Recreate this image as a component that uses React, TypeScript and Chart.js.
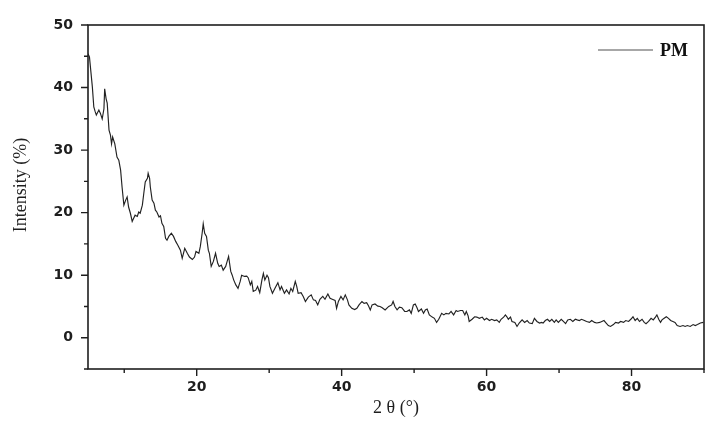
import React, { useEffect, useRef } from "react";
import { Chart, registerables } from "chart.js";

Chart.register(...registerables);

const SERIES_LABEL = "PM";
const X_TITLE = "2 θ (°)";
const Y_TITLE = "Intensity (%)";

const angles: number[] = [
  5.0, 5.2, 5.6, 5.8, 6.0, 6.15, 6.5, 6.7, 6.96, 7.2, 7.3, 7.5, 7.65, 7.9, 8.1, 8.25, 8.4, 8.7, 9.0, 9.25,
  9.5, 9.7, 9.95, 10.2, 10.4, 10.6, 10.85, 11.1, 11.3, 11.5, 11.8, 12.0, 12.2, 12.5, 12.7, 12.9, 13.2, 13.3, 13.5, 13.6,
  13.85, 14.1, 14.3, 14.5, 14.8, 15.0, 15.2, 15.45, 15.7, 15.9, 16.15, 16.5, 16.8, 17.1, 17.4, 17.75, 18.0, 18.35, 18.7, 19.0,
  19.4, 19.7, 19.9, 20.3, 20.5, 20.75, 20.9, 21.1, 21.35, 21.6, 21.75, 22.0, 22.3, 22.6, 22.9, 23.1, 23.4, 23.65, 24.0, 24.2,
  24.4, 24.7, 24.9, 25.1, 25.4, 25.7, 26.0, 26.2, 26.6, 26.9, 27.1, 27.4, 27.6, 27.8, 28.15, 28.4, 28.7, 29.0, 29.2, 29.4,
  29.7, 29.9, 30.1, 30.45, 30.8, 31.2, 31.5, 31.7, 32.1, 32.4, 32.75, 33.0, 33.25, 33.6, 33.8, 34.0, 34.4, 34.7, 35.0, 35.4,
  35.8, 36.1, 36.4, 36.7, 37.0, 37.4, 37.7, 38.1, 38.4, 38.7, 39.1, 39.3, 39.55, 39.9, 40.2, 40.5, 40.8, 41.0, 41.4, 41.8,
  42.1, 42.4, 42.8, 43.1, 43.45, 43.7, 43.95, 44.2, 44.6, 45.0, 45.3, 45.6, 46.0, 46.5, 46.9, 47.1, 47.35, 47.65, 47.97, 48.3,
  48.7, 49.0, 49.35, 49.6, 49.9, 50.15, 50.4, 50.6, 51.0, 51.3, 51.55, 51.8, 52.1, 52.5, 52.8, 53.1, 53.4, 53.8, 54.1, 54.4,
  54.8, 55.1, 55.45, 55.8, 56.0, 56.4, 56.7, 57.0, 57.2, 57.45, 57.6, 58.0, 58.35, 58.65, 59.0, 59.4, 59.7, 60.0, 60.4, 60.7,
  61.1, 61.4, 61.75, 62.0, 62.35, 62.6, 62.8, 63.0, 63.3, 63.5, 63.9, 64.2, 64.5, 64.9, 65.25, 65.6, 65.9, 66.3, 66.6, 66.95,
  67.3, 67.6, 67.8, 68.1, 68.4, 68.7, 69.0, 69.35, 69.6, 69.9, 70.3, 70.6, 70.9, 71.2, 71.55, 71.9, 72.25, 72.5, 72.8, 73.1,
  73.5, 73.8, 74.2, 74.5, 74.9, 75.2, 75.6, 75.9, 76.2, 76.5, 76.8, 77.1, 77.5, 77.8, 78.2, 78.5, 78.9, 79.2, 79.6, 79.9,
  80.2, 80.5, 80.8, 81.1, 81.45, 81.75, 82.0, 82.35, 82.7, 83.0, 83.3, 83.5, 83.75, 84.0, 84.2, 84.5, 84.8, 85.1, 85.4, 85.7,
  86.0, 86.3, 86.7, 87.1, 87.4, 87.7, 88.1, 88.5, 88.8, 89.1, 89.5, 89.9,
];

const intensities: number[] = [
  45.4, 44.9, 40.1, 36.9, 36.1, 35.6, 36.4, 35.9, 35.0, 36.6, 39.8, 38.2, 37.5, 33.2, 32.4, 31.0, 32.1, 31.0, 28.9, 28.4,
  26.8, 24.1, 21.2, 22.0, 22.5, 20.9, 19.9, 18.6, 19.1, 19.6, 19.4, 20.1, 19.9, 21.2, 23.1, 24.9, 25.5, 26.3, 25.5, 24.1,
  22.0, 21.5, 20.4, 20.1, 19.3, 19.5, 18.3, 17.8, 15.9, 15.6, 16.2, 16.7, 16.2, 15.4, 14.8, 14.0, 12.7, 14.3, 13.5, 12.9,
  12.5, 12.9, 13.8, 13.5, 14.6, 16.7, 18.2, 16.7, 16.2, 14.0, 13.5, 11.4, 12.2, 13.5, 11.9, 11.4, 11.6, 10.8, 11.4, 12.2,
  13.0, 10.6, 10.0, 9.25, 8.45, 7.9, 9.0, 10.0, 9.8, 9.85, 9.6, 8.45, 9.0, 7.4, 7.6, 8.2, 7.2, 9.25, 10.3, 9.25,
  10.0, 9.6, 8.2, 7.1, 7.9, 8.8, 7.65, 8.2, 7.1, 7.65, 7.0, 7.9, 7.4, 9.0, 8.2, 7.1, 7.2, 6.6, 5.8, 6.5,
  6.85, 6.05, 5.95, 5.25, 6.15, 6.6, 6.15, 7.0, 6.3, 6.15, 5.95, 4.7, 5.8, 6.6, 6.05, 6.85, 6.05, 5.25, 4.7, 4.5,
  4.7, 5.25, 5.8, 5.5, 5.6, 5.1, 4.45, 5.25, 5.4, 5.05, 5.0, 4.8, 4.45, 5.0, 5.25, 5.8, 5.0, 4.45, 4.9, 4.8,
  4.2, 4.2, 4.45, 3.9, 5.25, 5.4, 4.8, 4.2, 4.6, 3.9, 4.45, 4.6, 3.65, 3.3, 3.1, 2.45, 2.95, 3.9, 3.65, 3.9,
  3.8, 4.2, 3.65, 4.35, 4.2, 4.35, 4.35, 3.65, 4.2, 3.5, 2.6, 2.95, 3.35, 3.3, 3.1, 3.3, 2.85, 3.1, 2.75, 2.95,
  2.75, 2.85, 2.45, 2.95, 3.3, 3.65, 3.35, 2.95, 3.3, 2.6, 2.45, 1.8, 2.35, 2.85, 2.45, 2.75, 2.35, 2.25, 3.1, 2.6,
  2.35, 2.45, 2.35, 2.75, 2.95, 2.6, 2.95, 2.45, 2.85, 2.45, 2.95, 2.6, 2.25, 2.85, 2.95, 2.6, 2.95, 2.85, 2.75, 2.95,
  2.75, 2.6, 2.45, 2.75, 2.45, 2.35, 2.45, 2.6, 2.75, 2.35, 1.95, 1.8, 2.1, 2.45, 2.35, 2.6, 2.45, 2.75, 2.6, 2.95,
  3.35, 2.75, 3.1, 2.6, 2.95, 2.45, 2.25, 2.6, 3.1, 2.85, 3.3, 3.65, 2.95, 2.45, 2.85, 3.1, 3.35, 3.1, 2.75, 2.6,
  2.45, 1.95, 1.8, 1.95, 1.8, 1.95, 1.8, 2.1, 1.95, 2.1, 2.35, 2.45,
];

const xMin = 5;
const xMax = 90;
const yMin = -5;
const yMax = 50;

const INK = "#1e1e1e";
const SERIF = '"Liberation Serif", "Times New Roman", serif';
const SANS = '"DejaVu Sans", "Liberation Sans", Arial, sans-serif';

const framePlugin = {
  id: "frameAndTicks",
  afterDraw(chart: any) {
    const { ctx, chartArea, scales } = chart;
    const xs = scales.x;
    const ys = scales.y;
    const { left, right, top, bottom } = chartArea;
    ctx.save();
    ctx.strokeStyle = INK;
    ctx.lineWidth = 1.6;
    ctx.strokeRect(left, top, right - left, bottom - top);
    ctx.lineWidth = 1.4;
    ctx.beginPath();
    for (const t of xs.ticks) {
      const v = t.value;
      if (Math.abs(v % 10) > 1e-6) continue;
      const px = xs.getPixelForValue(v);
      const len = v % 20 === 0 ? 7 : 4;
      ctx.moveTo(px, bottom);
      ctx.lineTo(px, bottom + len);
    }
    for (const t of ys.ticks) {
      const v = t.value;
      const py = ys.getPixelForValue(v);
      const len = v % 10 === 0 ? 7 : 4;
      ctx.moveTo(left, py);
      ctx.lineTo(left - len, py);
    }
    ctx.stroke();

    // y axis title
    ctx.fillStyle = INK;
    ctx.font = `18px ${SERIF}`;
    ctx.textAlign = "center";
    ctx.textBaseline = "middle";
    ctx.save();
    ctx.translate(21, (top + bottom) / 2 - 12);
    ctx.rotate(-Math.PI / 2);
    ctx.fillText(Y_TITLE, 0, 0);
    ctx.restore();

    // legend
    const ds = chart.data.datasets[0];
    const ly = top + 25;
    ctx.strokeStyle = "#8a8a8a";
    ctx.lineWidth = 1.5;
    ctx.beginPath();
    ctx.moveTo(right - 106, ly);
    ctx.lineTo(right - 51, ly);
    ctx.stroke();
    ctx.fillStyle = "#111";
    ctx.font = `bold 18px ${SERIF}`;
    ctx.textAlign = "left";
    ctx.textBaseline = "middle";
    ctx.fillText(ds.label, right - 44, ly + 1);
    ctx.restore();
  },
};

export default function App() {
  const canvasRef = useRef<HTMLCanvasElement | null>(null);

  useEffect(() => {
    const canvas = canvasRef.current;
    if (!canvas) return;
    const points = angles.map((a, i) => ({ x: a, y: intensities[i] }));
    const chart = new Chart(canvas, {
      type: "line",
      data: {
        datasets: [
          {
            label: SERIES_LABEL,
            data: points,
            borderColor: "#222",
            borderWidth: 1.15,
            pointRadius: 0,
            tension: 0,
            fill: false,
          },
        ],
      },
      options: {
        animation: false,
        responsive: false,
        devicePixelRatio: 1,
        layout: { padding: { top: 25, right: 15, left: 0, bottom: 0 } },
        plugins: {
          legend: { display: false },
          tooltip: { enabled: false },
        },
        scales: {
          x: {
            type: "linear",
            min: xMin,
            max: xMax,
            afterFit: (scale: any) => {
              scale.height = 56;
            },
            ticks: {
              stepSize: 10,
              autoSkip: false,
              maxRotation: 0,
              padding: 10,
              color: INK,
              font: { family: SANS, size: 14, weight: "bold" },
              callback: (v: any) => (Number(v) % 20 === 0 ? String(v) : ""),
            },
            grid: { display: true, drawOnChartArea: false, drawTicks: false },
            border: { display: false },
            title: {
              display: true,
              text: X_TITLE,
              color: INK,
              font: { family: SERIF, size: 18 },
              padding: { top: 0, bottom: 6 },
            },
          },
          y: {
            type: "linear",
            min: yMin,
            max: yMax,
            afterFit: (scale: any) => {
              scale.width = 88;
            },
            ticks: {
              stepSize: 5,
              autoSkip: false,
              padding: 15,
              color: INK,
              font: { family: SANS, size: 14, weight: "bold" },
              callback: (v: any) => (Number(v) % 10 === 0 ? String(v) : ""),
            },
            grid: { display: true, drawOnChartArea: false, drawTicks: false },
            border: { display: false },
            title: { display: false },
          },
        },
      },
      plugins: [framePlugin],
    });
    return () => chart.destroy();
  }, []);

  return (
    <div style={{ position: "fixed", left: 0, top: 0, width: 719, height: 425, background: "#fff" }}>
      <canvas ref={canvasRef} width={719} height={425} />
    </div>
  );
}
